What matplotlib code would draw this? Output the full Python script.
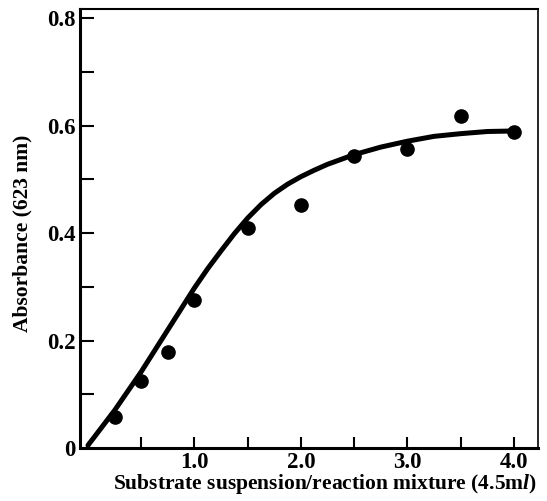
import matplotlib
matplotlib.use("Agg")
import matplotlib.pyplot as plt
from matplotlib.ticker import MultipleLocator, FixedLocator

plt.rcParams['font.family'] = ['Liberation Serif', 'DejaVu Serif']
plt.rcParams['font.weight'] = 'bold'
plt.rcParams['mathtext.fontset'] = 'custom'
plt.rcParams['mathtext.bfit'] = 'Liberation Serif:italic:bold'
plt.rcParams['mathtext.bf'] = 'Liberation Serif:bold'

# measured points
x_pts = [0.25, 0.5, 0.75, 1.0, 1.5, 2.0, 2.5, 3.0, 3.5, 4.0]
y_pts = [0.058, 0.125, 0.178, 0.275, 0.409, 0.452, 0.544, 0.557, 0.617, 0.589]

# fitted curve
x_fit = [0.0, 0.25, 0.5, 0.75, 1.0, 1.125, 1.25, 1.375, 1.5, 1.625, 1.75, 1.875,
         2.0, 2.125, 2.25, 2.5, 2.75, 3.0, 3.25, 3.5, 3.75, 4.0]
y_fit = [0.005, 0.070, 0.142, 0.220, 0.298, 0.334, 0.367, 0.399, 0.428, 0.453, 0.474, 0.491,
         0.505, 0.517, 0.528, 0.546, 0.560, 0.571, 0.580, 0.585, 0.589, 0.590]

x_labels = ["1.0", "2.0", "3.0", "4.0"]
y_labels = ["0", "0.2", "0.4", "0.6", "0.8"]

fig = plt.figure(figsize=(5.47, 5.01), dpi=100)
ax = fig.add_axes([80/547, 1 - 448/501, 458/547, 439/501])

ax.plot(x_fit, y_fit, color='black', lw=3.6, solid_capstyle='round', solid_joinstyle='round')
ax.plot(x_pts, y_pts, 'o', color='black', ms=9.5)

ax.set_xlim(-0.075, 4.226)
ax.set_ylim(0, 0.817)

ax.xaxis.set_major_locator(FixedLocator([1.0, 2.0, 3.0, 4.0]))
ax.set_xticklabels(x_labels)
ax.xaxis.set_minor_locator(FixedLocator([0.5, 1.5, 2.5, 3.5]))
ax.yaxis.set_major_locator(FixedLocator([0, 0.2, 0.4, 0.6, 0.8]))
ax.set_yticklabels(y_labels)
ax.yaxis.set_minor_locator(MultipleLocator(0.1))

ax.tick_params(axis='both', which='both', direction='in', width=1.5, labelsize=16.5)
ax.tick_params(axis='x', which='both', length=8, pad=3)
ax.tick_params(axis='y', which='both', length=10, pad=3)
for t in ax.get_xticklabels() + ax.get_yticklabels():
    t.set_fontweight('bold')

ax.spines['left'].set_linewidth(2.2)
ax.spines['bottom'].set_linewidth(2.2)
ax.spines['top'].set_linewidth(1.5)
ax.spines['right'].set_linewidth(1.2)

ax.set_xlabel("Substrate suspension/reaction mixture (4.5m$\\mathbfit{l}$)",
              fontsize=15.5, fontweight='bold')
ax.xaxis.set_label_coords(0.535, -0.055)
ax.set_ylabel("Absorbance (623 nm)", fontsize=15.5, fontweight='bold')
ax.yaxis.set_label_coords(-0.104, 0.49)

fig.savefig("out.png", dpi=100)
